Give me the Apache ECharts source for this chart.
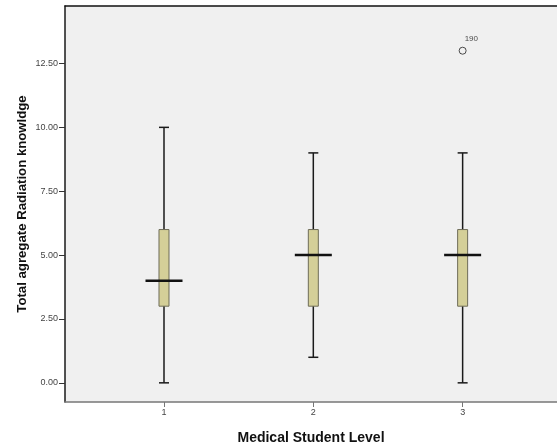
<!DOCTYPE html>
<html>
<head>
<meta charset="utf-8">
<script src="https://cdn.jsdelivr.net/npm/echarts@6/dist/echarts.min.js"></script>
<style>
  html, body { margin: 0; padding: 0; background: #fff; }
  #main { width: 557px; height: 447px; }
</style>
</head>
<body>
<div id="main"></div>
<script>
// medical student level groups
const levels = [1, 2, 3]
// [min, Q1, median, Q3, max] per level
const boxes = [
  [0, 3, 4, 6, 10],
  [1, 3, 5, 6, 9],
  [0, 3, 5, 6, 9]
]
const outliers = [[3, 13, '190']]
const yTicks = [0, 2.5, 5, 7.5, 10, 12.5]

const chart = echarts.init(document.getElementById('main'))

const boxData = levels.map((lv, i) => [lv].concat(boxes[i]))

const option = {
  animation: false,
  grid: {
    left: 65, right: 0, top: 6, bottom: 45,
    outerBoundsMode: 'none',
    containLabel: false,
    show: true, backgroundColor: '#f0f0f0', borderWidth: 0
  },
  xAxis: [
    {
      type: 'value',
      min: 0.337,
      max: 3.632,
      name: 'Medical Student Level',
      nameLocation: 'middle',
      nameGap: 29,
      nameMoveOverlap: false,
      nameTextStyle: { fontFamily: 'Liberation Sans', fontWeight: 'bold', fontSize: 14, color: '#111' },
      axisLine: { show: true, onZero: false, lineStyle: { color: '#777', width: 1.5 } },
      axisTick: { show: true, length: 5, customValues: levels, lineStyle: { color: '#777' } },
      axisLabel: {
        customValues: levels, fontFamily: 'Liberation Sans', fontSize: 9, color: '#444', margin: 6,
        formatter: v => String(v)
      },
      splitLine: { show: false }
    },
    {
      // top frame line
      type: 'value',
      position: 'top',
      min: 0.337,
      max: 3.632,
      axisLine: { show: true, onZero: false, lineStyle: { color: '#111', width: 1.5 } },
      axisTick: { show: false },
      axisLabel: { show: false },
      splitLine: { show: false }
    }
  ],
  yAxis: {
    type: 'value',
    min: -0.75,
    max: 14.75,
    name: 'Total agregate Radiation knowldge',
    nameLocation: 'middle',
    nameGap: 36,
    nameMoveOverlap: false,
    nameTextStyle: { fontFamily: 'Liberation Sans', fontWeight: 'bold', fontSize: 13.2, color: '#111' },
    axisLine: { show: true, onZero: false, lineStyle: { color: '#1a1a1a', width: 1.5 } },
    axisTick: { show: true, length: 6, customValues: yTicks, lineStyle: { color: '#333' } },
    axisLabel: {
      customValues: yTicks, fontFamily: 'Liberation Sans', fontSize: 9, color: '#444', margin: 7,
      formatter: v => v.toFixed(2)
    },
    splitLine: { show: false }
  },
  series: [
    {
      type: 'custom',
      data: boxData,
      encode: { x: 0, y: [1, 2, 3, 4, 5] },
      renderItem: (params, api) => {
        const x = api.value(0)
        const pMin = api.coord([x, api.value(1)])
        const pQ1 = api.coord([x, api.value(2)])
        const pMed = api.coord([x, api.value(3)])
        const pQ3 = api.coord([x, api.value(4)])
        const pMax = api.coord([x, api.value(5)])
        const cx = pMin[0]
        const boxHalf = 5
        const capHalf = 5
        const medHalf = 18.5
        const line = { stroke: '#1a1a1a', lineWidth: 1.5 }
        return {
          type: 'group',
          children: [
            { type: 'line', shape: { x1: cx, y1: pMin[1], x2: cx, y2: pMax[1] }, style: line },
            { type: 'line', shape: { x1: cx - capHalf, y1: pMin[1], x2: cx + capHalf, y2: pMin[1] }, style: line },
            { type: 'line', shape: { x1: cx - capHalf, y1: pMax[1], x2: cx + capHalf, y2: pMax[1] }, style: line },
            {
              type: 'rect',
              shape: { x: cx - boxHalf, y: pQ3[1], width: boxHalf * 2, height: pQ1[1] - pQ3[1] },
              style: { fill: '#d4cf98', stroke: '#6e6c58', lineWidth: 1 }
            },
            { type: 'line', shape: { x1: cx - medHalf, y1: pMed[1], x2: cx + medHalf, y2: pMed[1] }, style: { stroke: '#111', lineWidth: 2.5 } }
          ]
        }
      }
    },
    {
      type: 'scatter',
      data: outliers.map(o => ({ value: [o[0], o[1]], label: { formatter: o[2] } })),
      symbol: 'circle',
      symbolSize: 7,
      itemStyle: { color: '#f0f0f0', borderColor: '#222', borderWidth: 1 },
      label: {
        show: true, position: [6, -12], fontFamily: 'Liberation Sans', fontSize: 8, color: '#222'
      }
    }
  ]
}

chart.setOption(option)
</script>
</body>
</html>
